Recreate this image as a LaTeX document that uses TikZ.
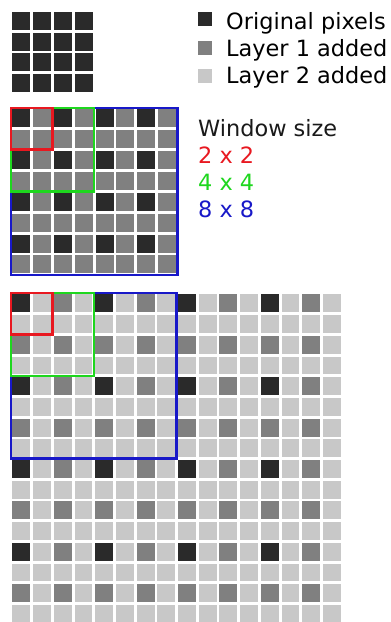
\documentclass[tikz,border=0pt]{standalone}
\usepackage{fontspec}
\setmainfont{DejaVu Sans}
\definecolor{pxdark}{RGB}{42,42,42}
\definecolor{pxmid}{RGB}{128,128,128}
\definecolor{pxlight}{RGB}{200,200,200}
\definecolor{winred}{RGB}{232,24,32}
\definecolor{wingreen}{RGB}{30,215,30}
\definecolor{winblue}{RGB}{24,24,200}
\begin{document}
\begin{tikzpicture}[x=1bp,y=-1bp,
  lbl/.style={anchor=base west,inner sep=0pt,font=\fontsize{22.5}{26}\selectfont},
  frame/.style={line width=2.4bp},
  swatch/.style={inner sep=0pt,minimum size=14.5bp}]
\useasboundingbox[fill=white] (0,0) rectangle (390,622);
\def\gp{2.8}
% ---- top grid: 4x4 original pixels
\foreach \i in {0,...,3}{\foreach \j in {0,...,3}{
  \fill[pxdark] ({10.9+\i*20.8+\gp/2},{10.5+\j*20.8+\gp/2}) rectangle ++({20.8-\gp},{20.8-\gp});
}}
% ---- middle grid: 8x8
\foreach \i in {0,...,7}{\foreach \j in {0,...,7}{
  \pgfmathtruncatemacro{\lv}{(mod(\i,2)==0 && mod(\j,2)==0) ? 0 : 1}
  \ifnum\lv=0 \def\cc{pxdark}\else\def\cc{pxmid}\fi
  \fill[\cc] ({10.7+\i*20.85+\gp/2},{108+\j*20.85+\gp/2}) rectangle ++({20.85-\gp},{20.85-\gp});
}}
\draw[frame,winblue] (10.7,108) rectangle ++({8*20.85},{8*20.85});
\draw[frame,wingreen] (10.7,108) rectangle ++({4*20.85},{4*20.85});
\draw[frame,winred] (10.7,108) rectangle ++({2*20.85},{2*20.85});
% ---- bottom grid: 16x16
\foreach \i in {0,...,15}{\foreach \j in {0,...,15}{
  \pgfmathtruncatemacro{\lv}{(mod(\i,4)==0 && mod(\j,4)==0) ? 0 : ((mod(\i,2)==0 && mod(\j,2)==0) ? 1 : 2)}
  \ifcase\lv \def\cc{pxdark}\or\def\cc{pxmid}\else\def\cc{pxlight}\fi
  \fill[\cc] ({11+\i*20.7+\gp/2},{293+\j*20.7+\gp/2}) rectangle ++({20.7-\gp},{20.7-\gp});
}}
\draw[frame,winblue] (11,293) rectangle ++({8*20.7},{8*20.7});
\draw[frame,wingreen] (11,293) rectangle ++({4*20.7},{4*20.7});
\draw[frame,winred] (11,293) rectangle ++({2*20.7},{2*20.7});
% ---- legend
\node[swatch,fill=pxdark] (s1) at (205,19.2) {};
\node[swatch,fill=pxmid] (s2) at (205,48) {};
\node[swatch,fill=pxlight] (s3) at (205,76.2) {};
\node[lbl] (t1) at (226,29.2) {Original pixels};
\node[lbl] (t2) at (226,56.6) {Layer 1 added};
\node[lbl] (t3) at (226,84) {Layer 2 added};
% ---- window sizes
\node[lbl,text={rgb,255:red,26;green,26;blue,26}] (w0) at (198,136.6) {Window size};
\node[lbl,text=winred] (w1) at (198,164) {2 x 2};
\node[lbl,text=wingreen] (w2) at (198,190.6) {4 x 4};
\node[lbl,text=winblue] (w3) at (198,217.2) {8 x 8};
\end{tikzpicture}
\end{document}
